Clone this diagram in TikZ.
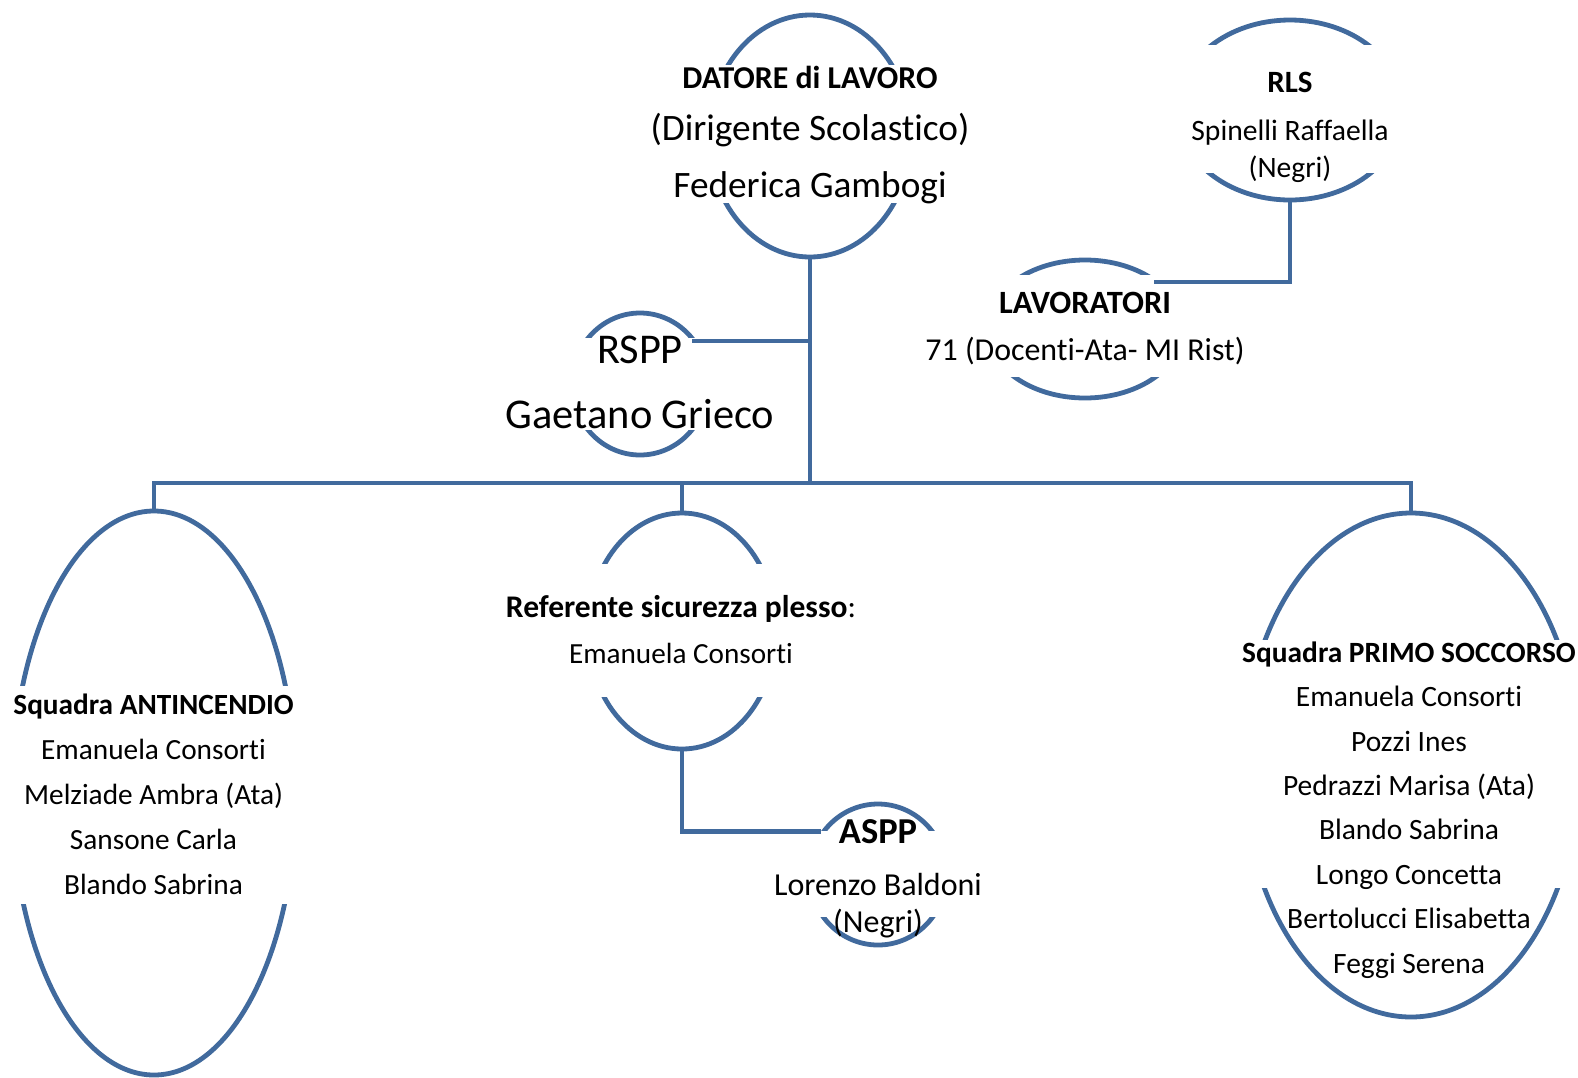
\documentclass[tikz,border=0pt]{standalone}
\usepackage{fontspec}
\setmainfont{Carlito}[Ligatures=NoCommon]
\usetikzlibrary{calc,shapes.geometric}
\definecolor{orgblue}{RGB}{65,106,157}

\begin{document}
\begin{tikzpicture}[x=1pt, y=-1pt,
    oval/.style={draw=orgblue, line width=4.8pt, ellipse, inner sep=0pt},
    link/.style={draw=orgblue, line width=4.8pt},
    txt/.style={anchor=base, align=center, inner sep=0pt}]
  \useasboundingbox (0,0) rectangle (1578,1077);

  % ovali
  \node[oval, minimum width=202pt, minimum height=242pt] (datore) at (810,136) {};
  \node[oval, minimum width=226pt, minimum height=180pt] (rls) at (1290,110) {};
  \node[oval, minimum width=196pt, minimum height=138pt] (lav) at (1085,329) {};
  \node[oval, minimum width=136pt, minimum height=142pt] (rspp) at (640,384) {};
  \node[oval, minimum width=188pt, minimum height=236pt] (ref) at (682,631) {};
  \node[oval, minimum width=137pt, minimum height=141pt] (aspp) at (878,874.5) {};
  \node[oval, minimum width=284pt, minimum height=564pt] (antinc) at (154,793) {};
  \node[oval, minimum width=336pt, minimum height=504pt] (primo) at (1411,765) {};

  % fasce bianche dei testi
  \fill[white] ($(datore.center)+(-115,-71)$) rectangle ($(datore.center)+(115,67)$);
  \fill[white] ($(rls.center)+(-125,-65)$) rectangle ($(rls.center)+(125,63)$);
  \fill[white] ($(lav.center)+(-110,-54)$) rectangle ($(lav.center)+(110,48)$);
  \fill[white] ($(rspp.center)+(-80,-46)$) rectangle ($(rspp.center)+(80,46)$);
  \fill[white] ($(ref.center)+(-105,-67)$) rectangle ($(ref.center)+(105,66)$);
  \fill[white] ($(aspp.center)+(-80,-43.5)$) rectangle ($(aspp.center)+(80,42.5)$);
  \fill[white] ($(antinc.center)+(-150,-107)$) rectangle ($(antinc.center)+(150,111)$);
  \fill[white] ($(primo.center)+(-180,-125)$) rectangle ($(primo.center)+(180,123)$);

  % collegamenti
  \coordinate (bus) at (0,483);
  \draw[link] (datore.south) -- (datore.south |- bus);
  \draw[link] ([yshift=-6pt]rspp.43) -- ([yshift=-6pt]rspp.43 -| datore.south);
  \draw[link] (antinc.north) -- (antinc.north |- bus) -| (primo.north);
  \draw[link] (ref.north) -- (ref.north |- bus);
  \draw[link] (ref.south) |- (aspp.143);
  \draw[link] (rls.south) |- ([yshift=-5pt]lav.37);

  % testi (base = ultima riga)
  \node[txt, font=\fontsize{31.8}{37}\selectfont\bfseries] (datoreT) at (810,88) {DATORE di LAVORO};
  \node[txt, font=\fontsize{37.3}{57}\selectfont] (datoreN) at (810,197) {(Dirigente Scolastico)\\Federica Gambogi};
  \node[txt, font=\fontsize{31}{37}\selectfont\bfseries] (rlsT) at (1290,92) {RLS};
  \node[txt, font=\fontsize{29.6}{37}\selectfont] (rlsN) at (1290,177) {Spinelli Raffaella\\(Negri)};
  \node[txt, font=\fontsize{32.5}{37}\selectfont\bfseries] (lavT) at (1085,313) {LAVORATORI};
  \node[txt, font=\fontsize{31.9}{37}\selectfont] (lavN) at (1085,360) {71 (Docenti-Ata- MI Rist)};
  \node[txt, font=\fontsize{42.4}{65}\selectfont] (rsppN) at (640,428) {RSPP\\Gaetano Grieco};
  \node[txt, font=\fontsize{36.5}{42}\selectfont\bfseries] (asppT) at (878,843) {ASPP};
  \node[txt, font=\fontsize{32}{37}\selectfont] (asppN) at (878,932) {Lorenzo Baldoni\\(Negri)};
  \node[txt, font=\fontsize{31.5}{36}\selectfont] (refT) at (681,617) {\textbf{Referente sicurezza plesso}:};
  \node[txt, font=\fontsize{29.2}{36}\selectfont] (refN) at (681,663) {Emanuela Consorti};
  \node[txt, font=\fontsize{29.3}{45}\selectfont\bfseries] (antincT) at (153.5,714) {Squadra ANTINCENDIO};
  \node[txt, font=\fontsize{29.3}{45}\selectfont] (antincN) at (153.5,894)
    {Emanuela Consorti\\Melziade Ambra (Ata)\\Sansone Carla\\Blando Sabrina};
  \node[txt, font=\fontsize{29.4}{44.4}\selectfont\bfseries] (primoT) at (1409,662) {Squadra PRIMO SOCCORSO};
  \node[txt, font=\fontsize{29.5}{44.4}\selectfont] (primoN) at (1409,973)
    {Emanuela Consorti\\Pozzi Ines\\Pedrazzi Marisa (Ata)\\Blando Sabrina\\Longo Concetta\\Bertolucci Elisabetta\\Feggi Serena};
\end{tikzpicture}
\end{document}
